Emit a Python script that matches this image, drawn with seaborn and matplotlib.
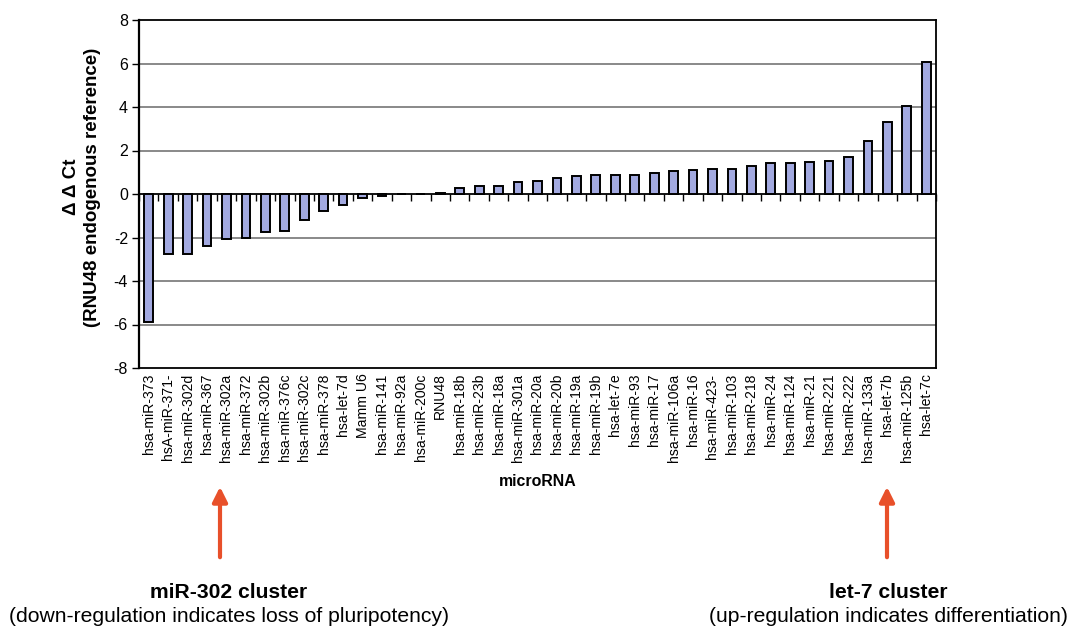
import matplotlib
matplotlib.use("Agg")
import matplotlib.pyplot as plt
import seaborn as sns
import pandas as pd

categories = ["hsa-miR-373", "hsA-miR-371-", "hsa-miR-302d", "hsa-miR-367", "hsa-miR-302a",
              "hsa-miR-372", "hsa-miR-302b", "hsa-miR-376c", "hsa-miR-302c", "hsa-miR-378",
              "hsa-let-7d", "Mamm U6", "hsa-miR-141", "hsa-miR-92a", "hsa-miR-200c",
              "RNU48", "hsa-miR-18b", "hsa-miR-23b", "hsa-miR-18a", "hsa-miR-301a",
              "hsa-miR-20a", "hsa-miR-20b", "hsa-miR-19a", "hsa-miR-19b", "hsa-let-7e",
              "hsa-miR-93", "hsa-miR-17", "hsa-miR-106a", "hsa-miR-16", "hsa-miR-423-",
              "hsa-miR-103", "hsa-miR-218", "hsa-miR-24", "hsa-miR-124", "hsa-miR-21",
              "hsa-miR-221", "hsa-miR-222", "hsa-miR-133a", "hsa-let-7b", "hsa-miR-125b",
              "hsa-let-7c"]
ddct = [-5.90, -2.74, -2.74, -2.37, -2.06, -2.00, -1.75, -1.68, -1.20, -0.76,
        -0.51, -0.20, -0.09, 0.0, 0.0,
        0.06, 0.29, 0.37, 0.35, 0.56, 0.62, 0.74, 0.82, 0.86, 0.86,
        0.86, 0.98, 1.05, 1.10, 1.17, 1.17, 1.30, 1.42, 1.42, 1.48,
        1.54, 1.72, 2.45, 3.30, 4.06, 6.07]
yticks = [-8, -6, -4, -2, 0, 2, 4, 6, 8]

sns.set_theme(style="white")
plt.rcParams['font.family'] = ['Liberation Sans', 'DejaVu Sans']
plt.rcParams['text.color'] = 'black'
plt.rcParams['axes.labelcolor'] = 'black'
plt.rcParams['xtick.color'] = 'black'
plt.rcParams['ytick.color'] = 'black'

df = pd.DataFrame({"microRNA": categories, "ddct": ddct})

fig = plt.figure(figsize=(10.71, 6.29), dpi=100)
ax = fig.add_axes([139/1071, 1 - 368/629, (936 - 139)/1071, 348/629])

for y in yticks:
    if y not in (0, 8, -8):
        ax.axhline(y, color="#808080", lw=1.3, zorder=0)

sns.barplot(data=df, x="microRNA", y="ddct", color="#A2A9E0", saturation=1,
            edgecolor="black", linewidth=1.4, width=0.45, ax=ax, zorder=2)

ax.set_ylim(-8, 8)
ax.set_xlim(-0.5, len(categories) - 0.5)
ax.set_yticks(yticks)
ax.set_yticklabels([str(v) for v in yticks], fontsize=11.5)
ax.tick_params(axis="y", direction="out", length=5, width=1, color="black",
               labelcolor="black", pad=3, left=True)
ax.set_xticks(range(len(categories)))
ax.set_xticklabels(categories, rotation=90, fontsize=10.1)
ax.tick_params(axis="x", length=0, pad=4, labelcolor="black")
ax.set_xlabel("")

for side in ["left", "right", "top", "bottom"]:
    ax.spines[side].set_visible(True)
    ax.spines[side].set_color("black")
ax.spines["left"].set_linewidth(1.6)
ax.spines["right"].set_linewidth(1.3)
ax.spines["top"].set_linewidth(1.3)
ax.spines["bottom"].set_linewidth(1.3)

# category axis crossing at zero
sec = ax.secondary_xaxis(0.5)
sec.xaxis.set_ticks_position("bottom")
sec.set_xticks([i - 0.5 for i in range(len(categories) + 1)])
sec.set_xticklabels([])
sec.tick_params(direction="out", length=5, width=1, color="black")
for s in sec.spines.values():
    s.set_color("black")
    s.set_linewidth(1.3)

ax.set_ylabel("Δ Δ Ct\n(RNU48 endogenous reference)", fontsize=13.5, fontweight="bold",
              multialignment="center", linespacing=1.3, color="black")
ax.yaxis.set_label_coords(-0.048, 0.52)

fig.text(538/1071, 1 - 482/629, "microRNA", fontsize=11.4, fontweight="bold",
         ha="center", va="center", color="black")

arrow_color = "#E8502A"
for xpx in (220, 887):
    fig.add_artist(matplotlib.patches.FancyArrowPatch(
        (xpx/1071, 1 - 560/629), (xpx/1071, 1 - 484/629), transform=fig.transFigure,
        arrowstyle="-|>", mutation_scale=22, lw=3, color=arrow_color))

fig.text(229/1071, 1 - 592/629, "miR-302 cluster", fontsize=15.2, fontweight="bold",
         ha="center", va="center", color="black")
fig.text(229/1071, 1 - 616/629, "(down-regulation indicates loss of pluripotency)",
         fontsize=15.2, ha="center", va="center", color="black")
fig.text(888/1071, 1 - 592/629, "let-7 cluster", fontsize=15.2, fontweight="bold",
         ha="center", va="center", color="black")
fig.text(888/1071, 1 - 616/629, "(up-regulation indicates differentiation)",
         fontsize=15.2, ha="center", va="center", color="black")

fig.savefig("out.png", dpi=100)
